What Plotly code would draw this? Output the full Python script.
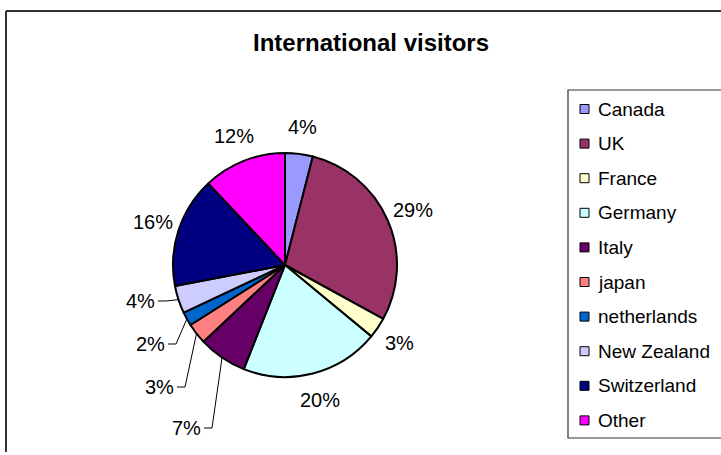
import math
import plotly.graph_objects as go

# Visitor shares by country of origin (percent)
countries = ["Canada", "UK", "France", "Germany", "Italy", "japan",
             "netherlands", "New Zealand", "Switzerland", "Other"]
shares = [4, 29, 3, 20, 7, 3, 2, 4, 16, 12]
colors = ["#9999FF", "#993366", "#FFFFCC", "#CCFFFF", "#660066",
          "#FF8080", "#0066CC", "#CCCCFF", "#000080", "#FF00FF"]
title_text = "International visitors"

W, H = 721, 455
FONT = "Liberation Sans, Arial, sans-serif"

# pie geometry in pixels
CX, CY, R = 285, 265, 112
LABEL_R = 139


def px(x):
    return x / W


def py(y):
    return 1 - y / H


fig = go.Figure()
fig.add_trace(go.Pie(
    labels=countries,
    values=shares,
    sort=False,
    direction="clockwise",
    rotation=0,
    marker=dict(colors=colors, line=dict(color="#000000", width=2)),
    textinfo="none",
    hoverinfo="label+percent",
    showlegend=False,
    domain=dict(x=[px(CX - R), px(CX + R)], y=[py(CY + R), py(CY - R)]),
))

annotations = []
shapes = []

# percentage labels; small slices on the left get leader lines
pulled = {4: (203, 428), 5: (176, 387), 6: (167, 344), 7: (157, 301)}
total = sum(shares)
cum = 0
for i, v in enumerate(shares):
    mid = (cum + v / 2) / total * 2 * math.pi
    cum += v
    pct = f"{round(v / total * 100)}%"
    if i in pulled:
        lx, ly = pulled[i]
        annotations.append(dict(
            x=px(lx), y=py(ly), xref="paper", yref="paper",
            text=pct, showarrow=False, xanchor="right", yanchor="middle",
            font=dict(family=FONT, size=20, color="#000000")))
        ex = CX + R * math.sin(mid)
        ey = CY - R * math.cos(mid)
        path = (f"M {px(lx + 1)} {py(ly)} L {px(lx + 9)} {py(ly)} "
                f"L {px(ex)} {py(ey)}")
        shapes.append(dict(type="path", path=path, xref="paper", yref="paper",
                           line=dict(color="#000000", width=1)))
    else:
        tx = CX + LABEL_R * math.sin(mid)
        ty = CY - LABEL_R * math.cos(mid)
        annotations.append(dict(
            x=px(tx), y=py(ty), xref="paper", yref="paper",
            text=pct, showarrow=False, xanchor="center", yanchor="middle",
            font=dict(family=FONT, size=20, color="#000000")))

# chart frame (top and left edges)
frame = dict(color="#333333", width=2)
shapes.append(dict(type="line", xref="paper", yref="paper",
                   x0=px(6), y0=py(11), x1=px(W + 2), y1=py(11), line=frame))
shapes.append(dict(type="line", xref="paper", yref="paper",
                   x0=px(6), y0=py(11), x1=px(6), y1=py(452), line=frame))

# legend box
lbox = dict(color="#333333", width=1.2)
shapes.append(dict(type="path", xref="paper", yref="paper",
                   path=(f"M {px(W + 2)} {py(90)} L {px(568)} {py(90)} "
                         f"L {px(568)} {py(438)} L {px(W + 2)} {py(438)}"),
                   line=lbox))

# legend entries
for i, (name, col) in enumerate(zip(countries, colors)):
    yc = 109 + 34.6 * i
    shapes.append(dict(type="rect", xref="paper", yref="paper",
                       x0=px(580), x1=px(589), y0=py(yc - 4.5), y1=py(yc + 4.5),
                       fillcolor=col, line=dict(color="#000000", width=1)))
    annotations.append(dict(
        x=px(596), y=py(yc), xref="paper", yref="paper", text=name,
        showarrow=False, xanchor="left", yanchor="middle",
        font=dict(family=FONT, size=19, color="#000000")))

# title
annotations.append(dict(
    x=px(371), y=py(42), xref="paper", yref="paper",
    text=f"<b>{title_text}</b>", showarrow=False,
    xanchor="center", yanchor="middle",
    font=dict(family=FONT, size=24, color="#000000")))

fig.update_layout(
    width=W, height=H,
    margin=dict(l=0, r=0, t=0, b=0),
    paper_bgcolor="#FFFFFF",
    plot_bgcolor="#FFFFFF",
    annotations=annotations,
    shapes=shapes,
    showlegend=False,
)

fig.write_html("out.html", config={"displayModeBar": False})
